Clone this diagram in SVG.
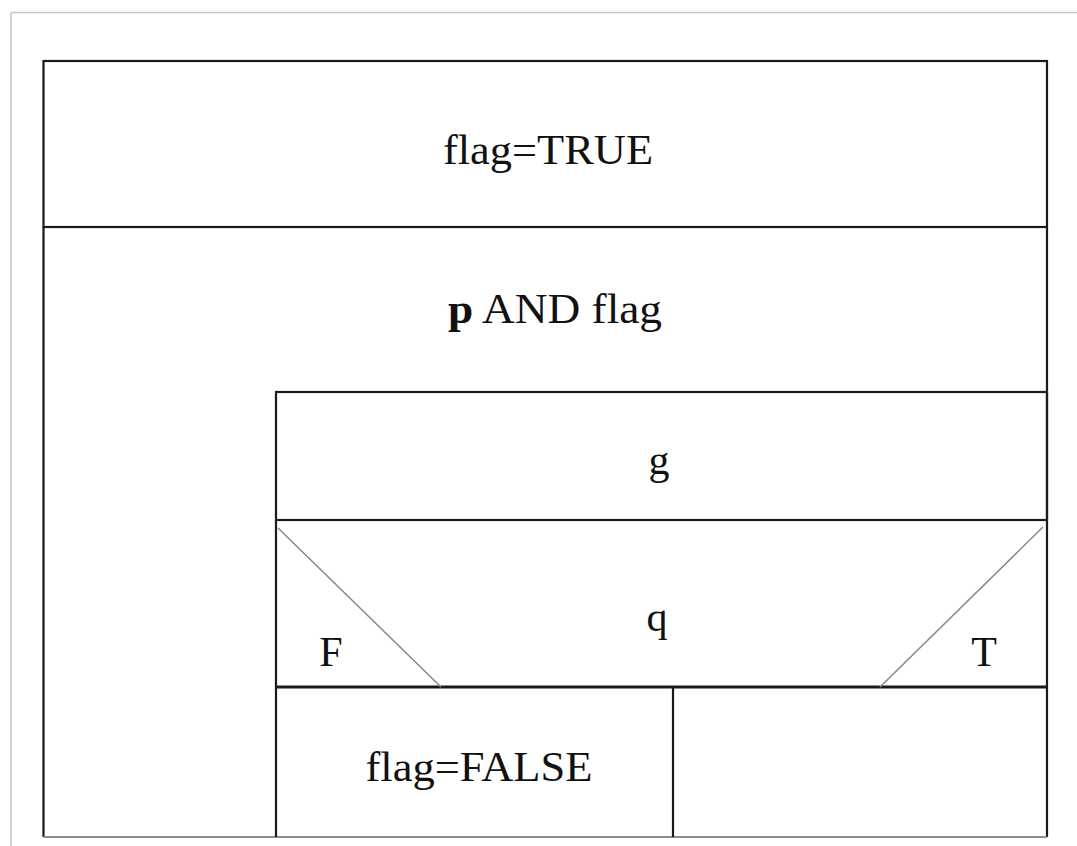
<svg xmlns="http://www.w3.org/2000/svg" width="1077" height="846" viewBox="0 0 1077 846">
<style>
.t{font-family:"Liberation Serif","Times New Roman",serif;font-size:42px;fill:#111;text-anchor:middle}
.b{fill:none;stroke:#1a1a1a;stroke-width:2.2}
.d{stroke:#8a8a8a;stroke-width:1.6;fill:none}
</style>
<rect width="1077" height="846" fill="#fff"/>
<g id="frame"><path d="M11 12.5H1077M11 12.5V846" stroke="#c8c8c8" stroke-width="1.5" fill="none"/></g>
<g id="n_init"><rect class="b" x="43.5" y="61" width="1003.5" height="166"/><text class="t" x="548" y="164" textLength="210" lengthAdjust="spacingAndGlyphs">flag=TRUE</text></g>
<g id="n_loop"><path class="b" d="M43.5 227V837M1047 837V227"/><path d="M43.5 837H1047" stroke="#8c8c8c" stroke-width="2.2"/><text class="t" x="555" y="323" textLength="214" lengthAdjust="spacingAndGlyphs"><tspan font-weight="bold">p</tspan> AND flag</text></g>
<g id="n_g"><rect class="b" x="276" y="392" width="771" height="128"/><text class="t" x="659" y="474">g</text></g>
<g id="n_q"><path class="b" d="M276 520V837"/><path d="M276 687H1047" stroke="#1a1a1a" stroke-width="3.2"/><text class="t" x="657" y="631">q</text><text class="t" x="331" y="666">F</text><text class="t" x="984" y="666">T</text></g>
<g id="connectors"><path class="d" d="M278 528L441 687M880 687L1043 527"/></g>
<g id="n_false"><path class="b" d="M673 687V837"/><text class="t" x="479" y="781" textLength="227" lengthAdjust="spacingAndGlyphs">flag=FALSE</text></g>
<g id="n_true"></g>
</svg>
